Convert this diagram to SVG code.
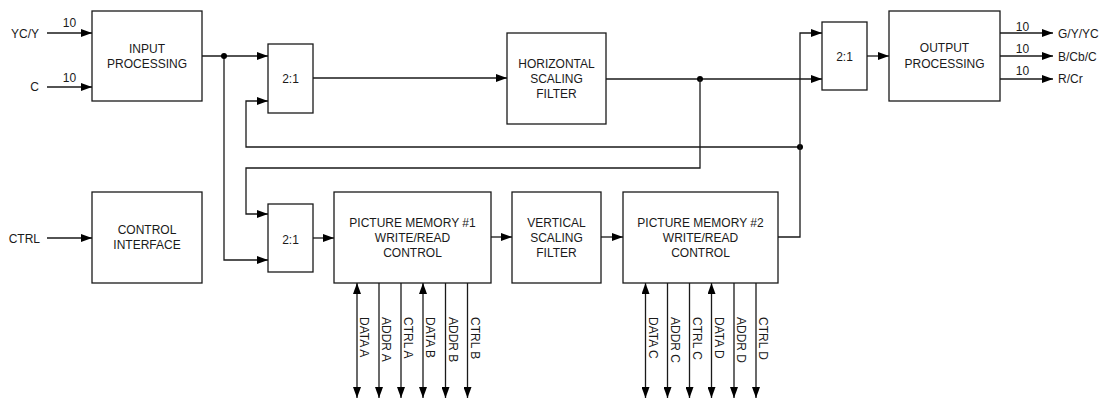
<svg xmlns="http://www.w3.org/2000/svg" width="1102" height="400" viewBox="0 0 1102 400">
  <style>
    .box { fill: #ffffff; stroke: #1a1a1a; stroke-width: 1.3; }
    .wire { fill: none; stroke: #1a1a1a; stroke-width: 1.3; }
    .arrow { marker-end: url(#head); }
    .bidir { marker-start: url(#head); marker-end: url(#head); }
    .dot { fill: #000000; }
    text { font-family: "Liberation Sans", Arial, sans-serif; font-size: 12px; fill: #1a1a1a; }
    .c { text-anchor: middle; }
    .e { text-anchor: end; }
  </style>
  <defs>
    <marker id="head" viewBox="0 0 11 8" refX="11" refY="4" markerWidth="11" markerHeight="8" markerUnits="userSpaceOnUse" orient="auto-start-reverse">
      <path d="M0,0 L11,4 L0,8 z" fill="#000000"/>
    </marker>
  </defs>

  <rect width="1102" height="400" fill="#ffffff"/>

  <!-- external inputs and outputs -->
  <g id="io-labels">
    <text class="e" x="39" y="37.5">YC/Y</text>
    <text class="e" x="39" y="91">C</text>
    <text class="e" x="40" y="242.5">CTRL</text>
    <text class="c" x="69.5" y="27">10</text>
    <text class="c" x="69.5" y="82">10</text>
    <text class="c" x="1022.5" y="30.5">10</text>
    <text class="c" x="1022.5" y="52.5">10</text>
    <text class="c" x="1022.5" y="75">10</text>
    <text x="1058" y="37.5">G/Y/YC</text>
    <text x="1058" y="60.5">B/Cb/C</text>
    <text x="1058" y="83">R/Cr</text>
  </g>

  <!-- nodes -->
  <g id="input-processing">
    <rect class="box" x="92" y="11" width="110" height="90"/>
    <text class="c" x="147" y="53">INPUT</text>
    <text class="c" x="147" y="68">PROCESSING</text>
  </g>
  <g id="control-interface">
    <rect class="box" x="92" y="192" width="110" height="91"/>
    <text class="c" x="147" y="234">CONTROL</text>
    <text class="c" x="147" y="249">INTERFACE</text>
  </g>
  <g id="mux-h">
    <rect class="box" x="268" y="44" width="45" height="69"/>
    <text class="c" x="290.5" y="83">2:1</text>
  </g>
  <g id="mux-v">
    <rect class="box" x="268" y="204" width="45" height="68"/>
    <text class="c" x="290.5" y="244">2:1</text>
  </g>
  <g id="horizontal-scaling-filter">
    <rect class="box" x="507" y="33" width="99" height="91"/>
    <text class="c" x="556.5" y="68">HORIZONTAL</text>
    <text class="c" x="556.5" y="83">SCALING</text>
    <text class="c" x="556.5" y="98">FILTER</text>
  </g>
  <g id="mux-out">
    <rect class="box" x="822" y="22" width="45" height="68"/>
    <text class="c" x="844.5" y="61">2:1</text>
  </g>
  <g id="output-processing">
    <rect class="box" x="889" y="11" width="111" height="90"/>
    <text class="c" x="944.5" y="52">OUTPUT</text>
    <text class="c" x="944.5" y="67.5">PROCESSING</text>
  </g>
  <g id="picture-memory-1">
    <rect class="box" x="334" y="192" width="157" height="91"/>
    <text class="c" x="412.5" y="227">PICTURE MEMORY #1</text>
    <text class="c" x="412.5" y="242">WRITE/READ</text>
    <text class="c" x="412.5" y="256.5">CONTROL</text>
  </g>
  <g id="vertical-scaling-filter">
    <rect class="box" x="512" y="192" width="89" height="91"/>
    <text class="c" x="556.5" y="227">VERTICAL</text>
    <text class="c" x="556.5" y="242">SCALING</text>
    <text class="c" x="556.5" y="256.5">FILTER</text>
  </g>
  <g id="picture-memory-2">
    <rect class="box" x="623" y="192" width="155" height="91"/>
    <text class="c" x="700.5" y="227">PICTURE MEMORY #2</text>
    <text class="c" x="700.5" y="242">WRITE/READ</text>
    <text class="c" x="700.5" y="256.5">CONTROL</text>
  </g>

  <!-- connectors -->
  <g id="connectors">
    <line class="wire arrow" x1="47" y1="33" x2="92" y2="33"/>
    <line class="wire arrow" x1="47" y1="87" x2="92" y2="87"/>
    <line class="wire arrow" x1="47" y1="238" x2="92" y2="238"/>

    <line class="wire arrow" x1="202" y1="56" x2="268" y2="56"/>
    <polyline class="wire arrow" points="224,56 224,260 268,260"/>
    <circle class="dot" cx="224" cy="56" r="3"/>

    <line class="wire arrow" x1="313" y1="78" x2="507" y2="78"/>
    <line class="wire arrow" x1="606" y1="79" x2="822" y2="79"/>
    <circle class="dot" cx="700" cy="79" r="3"/>
    <polyline class="wire arrow" points="700,79 700,168 246,168 246,214 268,214"/>

    <polyline class="wire arrow" points="800,147 246,147 246,101 268,101"/>
    <circle class="dot" cx="800" cy="147" r="3"/>
    <polyline class="wire arrow" points="778,237 800,237 800,33 822,33"/>

    <line class="wire arrow" x1="867" y1="56" x2="889" y2="56"/>
    <line class="wire arrow" x1="1000" y1="33" x2="1053" y2="33"/>
    <line class="wire arrow" x1="1000" y1="56" x2="1053" y2="56"/>
    <line class="wire arrow" x1="1000" y1="79" x2="1053" y2="79"/>

    <line class="wire arrow" x1="313" y1="238" x2="334" y2="238"/>
    <line class="wire arrow" x1="491" y1="237" x2="512" y2="237"/>
    <line class="wire arrow" x1="601" y1="237" x2="623" y2="237"/>

    <!-- memory bus lines, picture memory #1 -->
    <line class="wire bidir" x1="357" y1="283" x2="357" y2="398"/>
    <line class="wire arrow" x1="379" y1="283" x2="379" y2="398"/>
    <line class="wire arrow" x1="401" y1="283" x2="401" y2="398"/>
    <line class="wire bidir" x1="423" y1="283" x2="423" y2="398"/>
    <line class="wire arrow" x1="445.5" y1="283" x2="445.5" y2="398"/>
    <line class="wire arrow" x1="467.5" y1="283" x2="467.5" y2="398"/>

    <!-- memory bus lines, picture memory #2 -->
    <line class="wire bidir" x1="645.5" y1="283" x2="645.5" y2="398"/>
    <line class="wire arrow" x1="667.5" y1="283" x2="667.5" y2="398"/>
    <line class="wire arrow" x1="689.5" y1="283" x2="689.5" y2="398"/>
    <line class="wire bidir" x1="711.5" y1="283" x2="711.5" y2="398"/>
    <line class="wire arrow" x1="734" y1="283" x2="734" y2="398"/>
    <line class="wire arrow" x1="756" y1="283" x2="756" y2="398"/>
  </g>

  <!-- bus labels -->
  <g id="bus-labels">
    <text transform="translate(360,317) rotate(90)">DATA A</text>
    <text transform="translate(382,317) rotate(90)">ADDR A</text>
    <text transform="translate(404,317) rotate(90)">CTRL A</text>
    <text transform="translate(426,317) rotate(90)">DATA B</text>
    <text transform="translate(448.5,317) rotate(90)">ADDR B</text>
    <text transform="translate(470.5,317) rotate(90)">CTRL B</text>
    <text transform="translate(648.5,317) rotate(90)">DATA C</text>
    <text transform="translate(670.5,317) rotate(90)">ADDR C</text>
    <text transform="translate(692.5,317) rotate(90)">CTRL C</text>
    <text transform="translate(714.5,317) rotate(90)">DATA D</text>
    <text transform="translate(737,317) rotate(90)">ADDR D</text>
    <text transform="translate(759,317) rotate(90)">CTRL D</text>
  </g>
</svg>
